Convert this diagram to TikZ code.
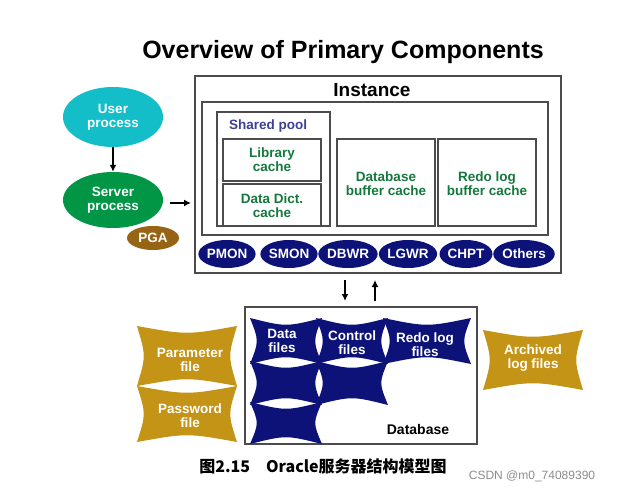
\documentclass[tikz,border=0pt]{standalone}
\usepackage{fontspec}
\setmainfont{Liberation Sans}
\newfontfamily\cjk{Noto Sans CJK SC}
\usetikzlibrary{positioning, shapes.geometric, arrows.meta}

\definecolor{navy}{RGB}{12,18,120}
\definecolor{gold}{RGB}{196,148,22}
\definecolor{teal}{RGB}{20,190,200}
\definecolor{grn}{RGB}{0,150,70}
\definecolor{pga}{RGB}{150,100,20}
\definecolor{txtgreen}{RGB}{20,120,60}

% concave-sided file shape: centre x, centre y, half width, half height, colour
\newcommand{\pinched}[5]{
\fill[#5] (#1-#3,#2-#4) .. controls (#1,#2-#4+9) .. (#1+#3,#2-#4)
  .. controls (#1+#3-9,#2) .. (#1+#3,#2+#4)
  .. controls (#1,#2+#4-9) .. (#1-#3,#2+#4)
  .. controls (#1-#3+9,#2) .. cycle;
}

\tikzset{
  lbl/.style={font=\fontsize{13.5}{14}\selectfont\bfseries, align=center},
  box/.style={draw=black!70, line width=1.5pt},
  proc/.style={ellipse, fill=navy, text=white, font=\fontsize{13.5}{14}\selectfont\bfseries, inner sep=0pt, minimum width=53pt, minimum height=28pt},
  arr/.style={-{Latex[length=7pt,width=7pt]}, line width=2pt},
}

\begin{document}
\begin{tikzpicture}[x=1pt, y=-1pt]
\useasboundingbox (0,0) rectangle (636,494);

\node[font=\fontsize{25}{27}\selectfont\bfseries] (title) at (343,52) {Overview of Primary Components};

% instance
\draw[box] (195,76) rectangle (561,273);
\node[font=\fontsize{19}{20}\selectfont\bfseries] (inst) at (372,90) {Instance};
\draw[box] (202,102) rectangle (548,235);
\draw[box] (217,112) rectangle (330,226);
\node[lbl, text=navy!80] (spool) at (268,126) {Shared pool};
\draw[box] (223,139) rectangle (321,181);
\node[lbl, text=txtgreen] (lib) at (272,160) {Library\\cache};
\draw[box] (223,184) rectangle (321,226);
\node[lbl, text=txtgreen] (dict) at (272,206) {Data Dict.\\cache};
\draw[box] (337,139) rectangle (435,226);
\node[lbl, text=txtgreen] (dbbuf) at (386,184) {Database\\buffer cache};
\draw[box] (438,139) rectangle (536,226);
\node[lbl, text=txtgreen] (redobuf) at (487,184) {Redo log\\buffer cache};

\foreach \x/\name in {227/PMON, 289/SMON, 348/DBWR, 408/LGWR, 466/CHPT, 524/Others} {
\node[proc] (\name) at (\x,254) {\name};
}

% client side
\node[ellipse, fill=teal, text=white, lbl, minimum width=100pt, minimum height=60pt, inner sep=0pt] (user) at (113,117) {User\\process};
\node[ellipse, fill=grn, text=white, lbl, minimum width=100pt, minimum height=56pt, inner sep=0pt] (server) at (113,200) {Server\\process};
\node[ellipse, fill=pga, text=white, lbl, minimum width=52pt, minimum height=24pt, inner sep=0pt] (pga) at (153,238) {PGA};
\coordinate (srv) at (170,203);
\coordinate (instin) at (191,203);
\draw[arr] (user) -- (server);
\draw[arr] (srv) -- (instin);

\coordinate (dn1) at (345,280);
\coordinate (dn2) at (345,301);
\coordinate (up1) at (375,301);
\coordinate (up2) at (375,280);
\draw[arr] (dn1) -- (dn2);
\draw[arr] (up1) -- (up2);

% database
\draw[box] (245,307) rectangle (477,444);
\node[font=\fontsize{14}{15}\selectfont\bfseries] (db) at (418,429) {Database};
\pinched{286}{423}{36}{21}{navy}
\pinched{286}{383}{36}{22}{navy}
\pinched{352}{383}{36}{22}{navy}
\pinched{286}{341}{36}{23}{navy}
\pinched{352}{341}{36}{23}{navy}
\pinched{427}{341}{44}{23}{navy}
\node[lbl, text=white] (data) at (282,341) {Data\\files};
\node[lbl, text=white] (ctl) at (352,343) {Control\\files};
\node[lbl, text=white] (redo) at (425,345) {Redo log\\files};

\pinched{187}{356}{50}{30}{gold}
\pinched{187}{414}{50}{28}{gold}
\pinched{533}{360}{50}{30}{gold}
\node[lbl, text=white] (param) at (190,360) {Parameter\\file};
\node[lbl, text=white] (pwd) at (190,416) {Password\\file};
\node[lbl, text=white] (arch) at (533,358) {Archived\\log files};

\node[font=\cjk\fontsize{16}{17}\selectfont\bfseries] (cap) at (323,466) {图2.15\quad Oracle服务器结构模型图};
\node[font=\fontsize{12}{13}\selectfont, text=black!45] (mark) at (532,476) {CSDN @m0\_74089390};
\end{tikzpicture}
\end{document}
